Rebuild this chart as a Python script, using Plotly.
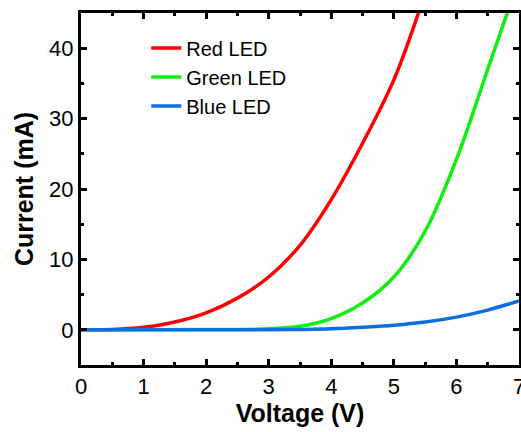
import plotly.graph_objects as go

# Red LED
red_v = [0.0, 0.5, 1.0, 1.5, 2.0, 2.5, 3.0, 3.5, 4.0, 4.5, 5.0, 5.4]
red_i = [0.0, 0.03, 0.35, 1.1, 2.4, 4.5, 7.5, 12.0, 18.5, 26.5, 35.5, 45.2]
# Green LED
green_v = [0.0, 2.5, 3.0, 3.5, 4.0, 4.5, 5.0, 5.5, 6.0, 6.5, 6.82]
green_i = [0.0, 0.05, 0.15, 0.5, 1.6, 3.8, 7.5, 14.0, 24.2, 37.0, 45.2]
# Blue LED
blue_v = [0.0, 1.0, 2.0, 3.0, 3.5, 4.0, 4.5, 5.0, 5.5, 6.0, 6.5, 7.0]
blue_i = [0.0, 0.0, 0.0, 0.0, 0.05, 0.15, 0.37, 0.65, 1.1, 1.8, 2.8, 4.1]

x_ticks = [0, 1, 2, 3, 4, 5, 6, 7]
y_ticks = [0, 10, 20, 30, 40]

FONT = "Liberation Sans, Arial, sans-serif"

fig = go.Figure()
for name, v, i, c in [("Red LED", red_v, red_i, "#ff0000"),
                      ("Green LED", green_v, green_i, "#11ee11"),
                      ("Blue LED", blue_v, blue_i, "#0a6fe0")]:
    fig.add_trace(go.Scatter(x=v, y=i, mode="lines", name=name,
                             line=dict(color=c, width=3.5, shape="spline", smoothing=1.0)))

axis_common = dict(showline=True, linecolor="black", linewidth=3, mirror="allticks",
                   ticks="inside", ticklen=6, tickwidth=3, tickcolor="black",
                   showgrid=False, zeroline=False, automargin=False,
                   ticklabeloverflow="allow",
                   tickfont=dict(family=FONT, size=22, color="black"))

fig.update_xaxes(range=[0, 7], tickvals=x_ticks, ticktext=[str(t) for t in x_ticks],
                 minor=dict(ticks="inside", dtick=0.5, ticklen=3, tickwidth=3, tickcolor="black"),
                 title=dict(text="<b>Voltage (V)</b>", font=dict(family=FONT, size=25, color="black"), standoff=4),
                 **axis_common)
fig.update_yaxes(range=[-5, 45], tickvals=y_ticks, ticktext=[str(t) for t in y_ticks],
                 minor=dict(ticks="inside", dtick=5, ticklen=3, tickwidth=3, tickcolor="black"),
                 title=dict(text="<b>Current (mA)</b>", font=dict(family=FONT, size=25, color="black"), standoff=9),
                 **axis_common)

fig.update_layout(width=521, height=432, margin=dict(l=81, r=2, t=13, b=67),
                  paper_bgcolor="white", plot_bgcolor="white",
                  font=dict(family=FONT, color="black"),
                  legend=dict(x=0.149, y=0.956, xanchor="left", yanchor="top",
                              bgcolor="rgba(0,0,0,0)", font=dict(family=FONT, size=20, color="black"),
                              tracegroupgap=0, itemwidth=30))

fig.write_html("out.html", config={"displayModeBar": False},
               post_script="document.body.style.margin='0';document.body.style.padding='0';")
